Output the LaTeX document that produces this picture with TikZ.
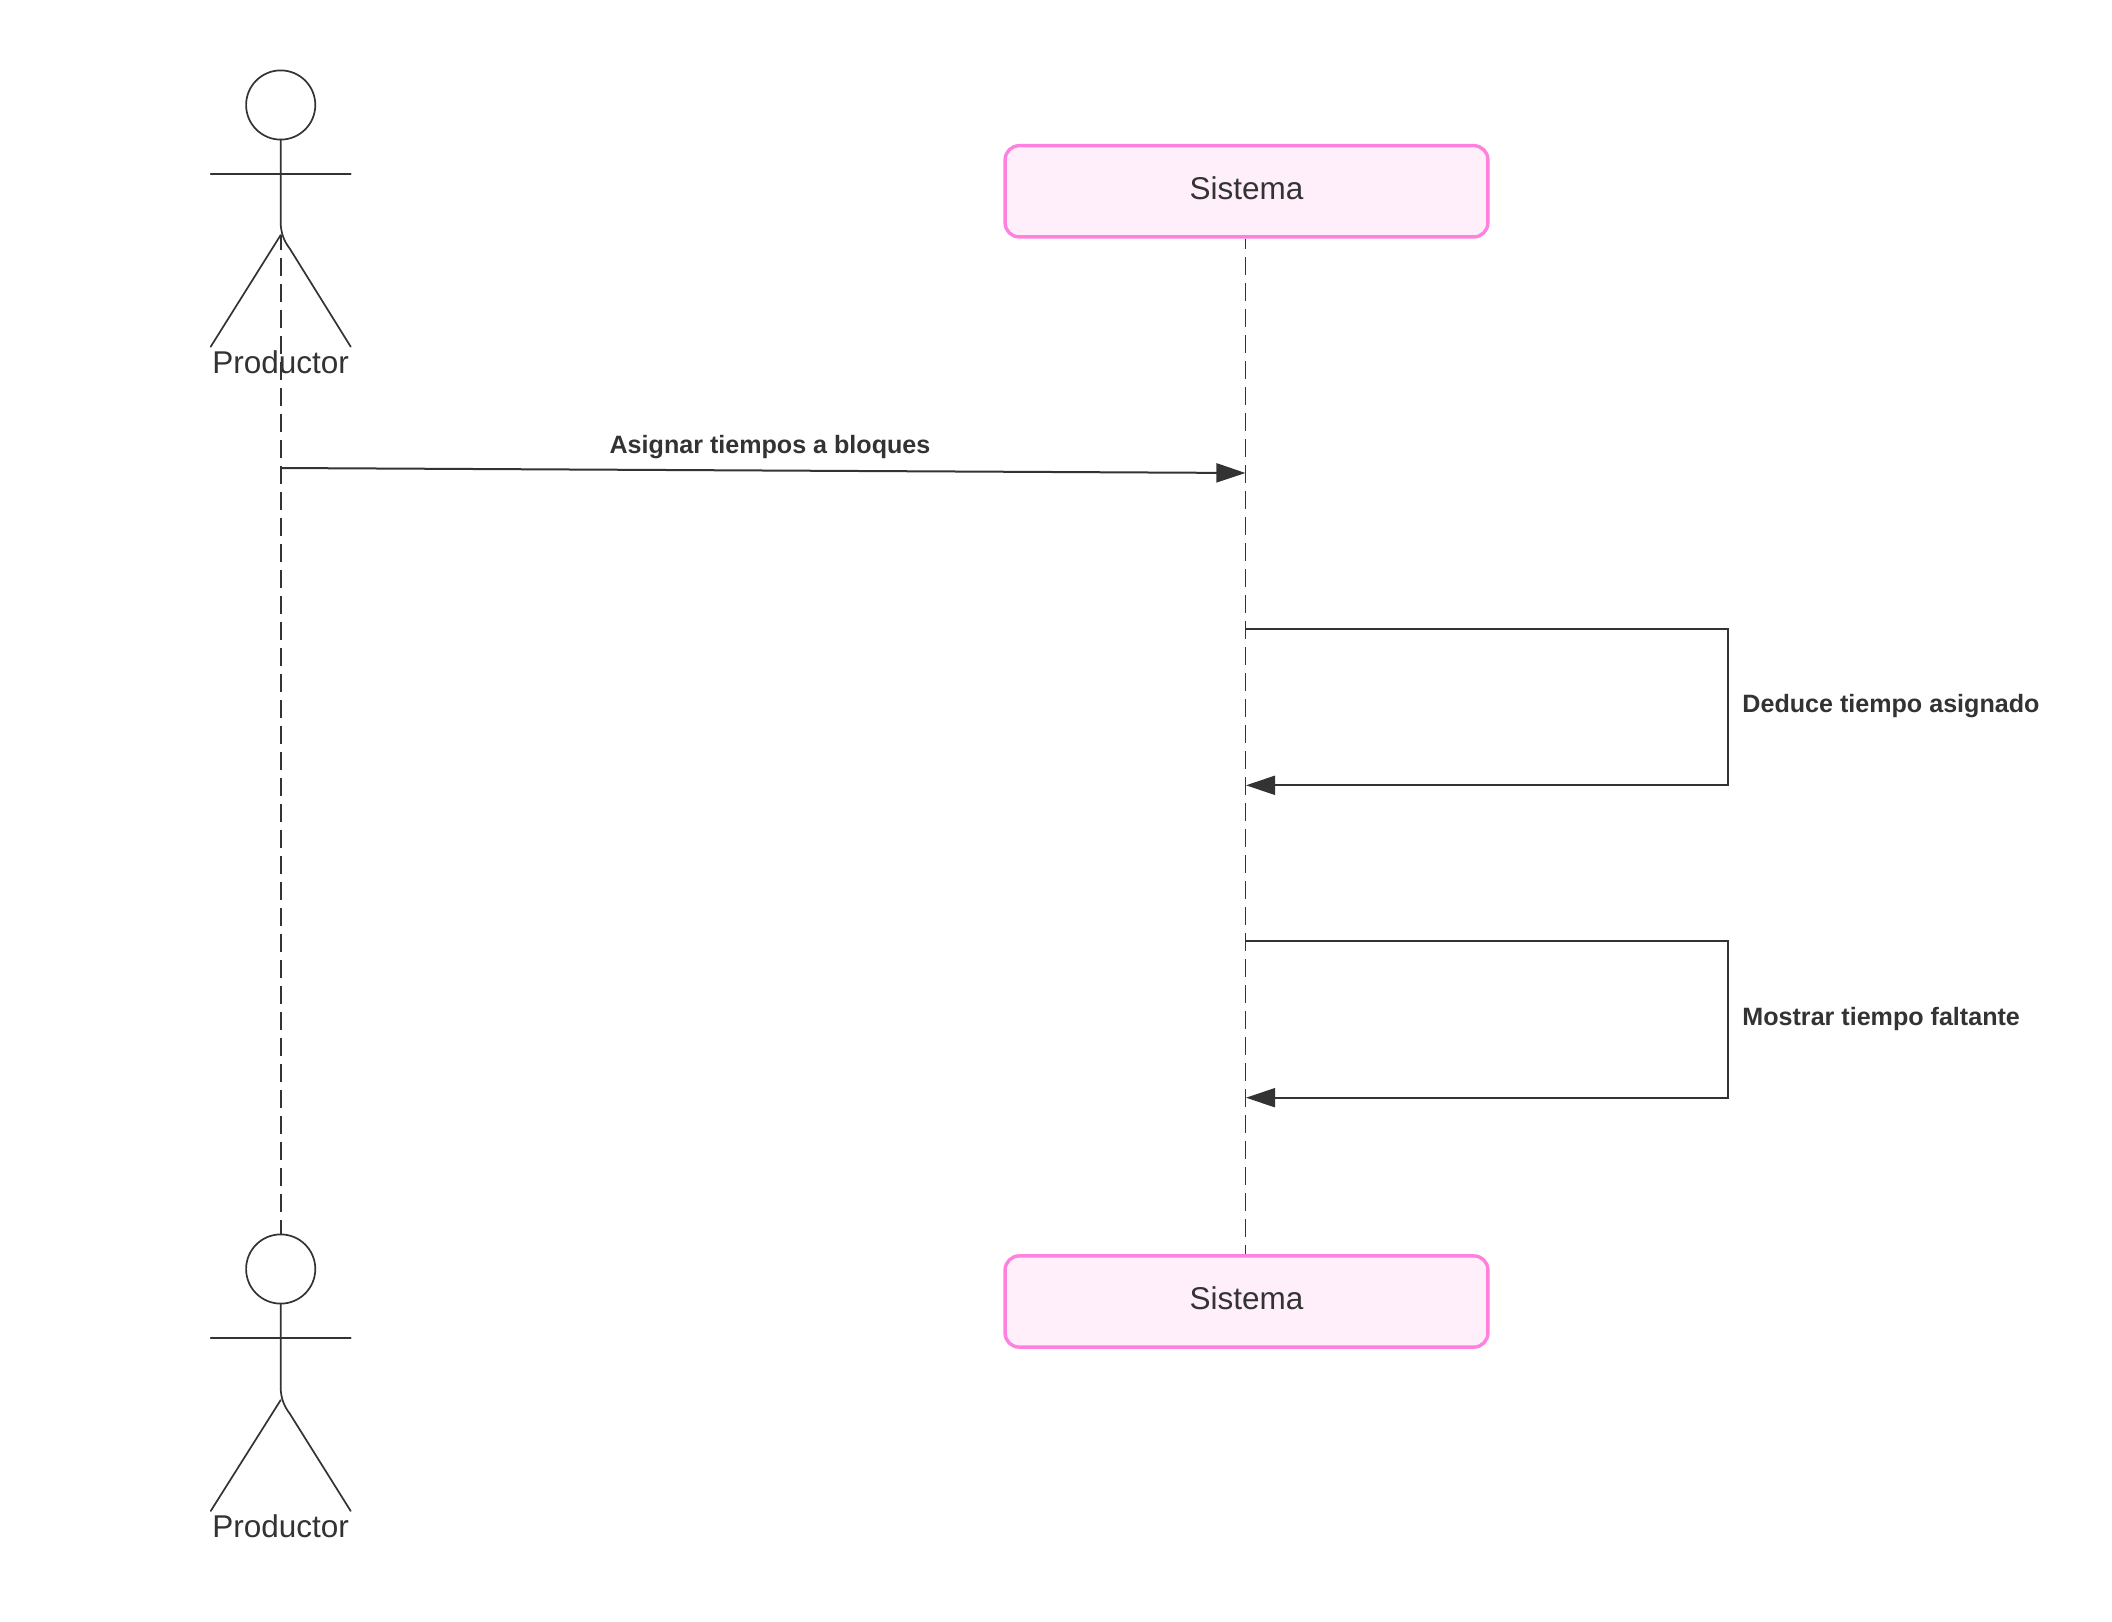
\documentclass[tikz,border=0pt]{standalone}
\usepackage{fontspec}
\usetikzlibrary{arrows.meta}
\setmainfont{Liberation Sans}
\definecolor{ink}{HTML}{333333}
\definecolor{boxline}{HTML}{FF80DF}
\definecolor{boxfill}{HTML}{FFEFFB}
\tikzset{
  figure/.style={draw=ink,line width=0.85pt,line cap=round},
  head/.style={circle,draw=ink,line width=0.85pt,minimum size=34.6pt,inner sep=0pt,outer sep=0pt},
  actorlabel/.style={anchor=base,text=ink,font=\fontsize{15.75}{18}\selectfont,inner sep=0pt},
  sysbox/.style={draw=boxline,fill=boxfill,line width=1.7pt,rounded corners=7pt,minimum width=241.4pt,minimum height=45.6pt,inner sep=0pt,outer sep=0pt,text=ink,text height=7.7pt,text depth=0pt,font=\fontsize{15.75}{18}\selectfont},
  lifeA/.style={draw=ink,line width=1pt,dash pattern=on 9pt off 4pt,dash phase=1.5pt},
  lifeB/.style={draw=ink,line width=0.7pt,dash pattern=on 9pt off 4pt,dash phase=3.85pt},
  msg/.style={draw=ink,line width=1pt,-{Triangle[length=14.5pt,width=9.5pt]}},
  msglabel/.style={anchor=base,text=ink,font=\bfseries\fontsize{12.55}{15}\selectfont,inner sep=0pt}
}
\begin{document}
\begin{tikzpicture}[x=0.5pt,y=-0.5pt]
\useasboundingbox (0,0) rectangle (2112,1621);
% top actor
\node[head] (h1) at (280.7,105) {};
\coordinate (a1arml) at (210.7,174);
\coordinate (a1armr) at (350.7,174);
\coordinate (a1hip) at (280.7,222);
\coordinate (a1crotch) at (280.7,235);
\coordinate (a1footl) at (210.7,346.7);
\coordinate (a1footr) at (350.7,346.7);
\draw[figure] (a1arml) -- (a1armr);
\draw[figure] (h1.south) -- (a1hip) .. controls (280.7,233) and (284,241) .. (290,249) -- (a1footr);
\draw[figure] (a1crotch) -- (a1footl);
\node[actorlabel] (p1) at (280.7,373) {Productor};
% bottom actor
\node[head] (h2) at (280.7,1269) {};
\coordinate (a2arml) at (210.7,1338);
\coordinate (a2armr) at (350.7,1338);
\coordinate (a2hip) at (280.7,1387);
\coordinate (a2crotch) at (280.7,1400);
\coordinate (a2footl) at (210.7,1511);
\coordinate (a2footr) at (350.7,1511);
\draw[figure] (a2arml) -- (a2armr);
\draw[figure] (h2.south) -- (a2hip) .. controls (280.7,1398) and (284,1406) .. (290,1414) -- (a2footr);
\draw[figure] (a2crotch) -- (a2footl);
\node[actorlabel] (p2) at (280.7,1537.3) {Productor};
% system boxes
\node[sysbox] (s1) at (1246.5,191.3) {Sistema};
\node[sysbox] (s2) at (1246.5,1301.5) {Sistema};
% lifelines
\coordinate (l1top) at (280.7,235);
\draw[lifeA] (l1top) -- (h2.north);
\coordinate (l2top) at ([yshift=-1pt]s1.south);
\coordinate (l2bot) at ([yshift=1pt]s2.north);
\draw[lifeB] (l2top -| 1245.4,0) -- (l2bot -| 1245.4,0);
% messages
\coordinate (m1a) at (280.7,468);
\coordinate (m1b) at (1245.4,473);
\draw[msg] (m1a) -- (m1b);
\node[msglabel] (t1) at (770,453.5) {Asignar tiempos a bloques};
\coordinate (m2a) at (1245.4,629);
\coordinate (m2c) at (1728,629);
\coordinate (m2d) at (1728,785.3);
\coordinate (m2b) at (1246,785.3);
\draw[msg] (m2a) -- (m2c) -- (m2d) -- (m2b);
\node[msglabel,anchor=base west] (t2) at (1742,712.7) {Deduce tiempo asignado};
\coordinate (m3a) at (1245.4,941.3);
\coordinate (m3c) at (1728,941.3);
\coordinate (m3d) at (1728,1097.7);
\coordinate (m3b) at (1246,1097.7);
\draw[msg] (m3a) -- (m3c) -- (m3d) -- (m3b);
\node[msglabel,anchor=base west] (t3) at (1742,1025.3) {Mostrar tiempo faltante};
\end{tikzpicture}
\end{document}
